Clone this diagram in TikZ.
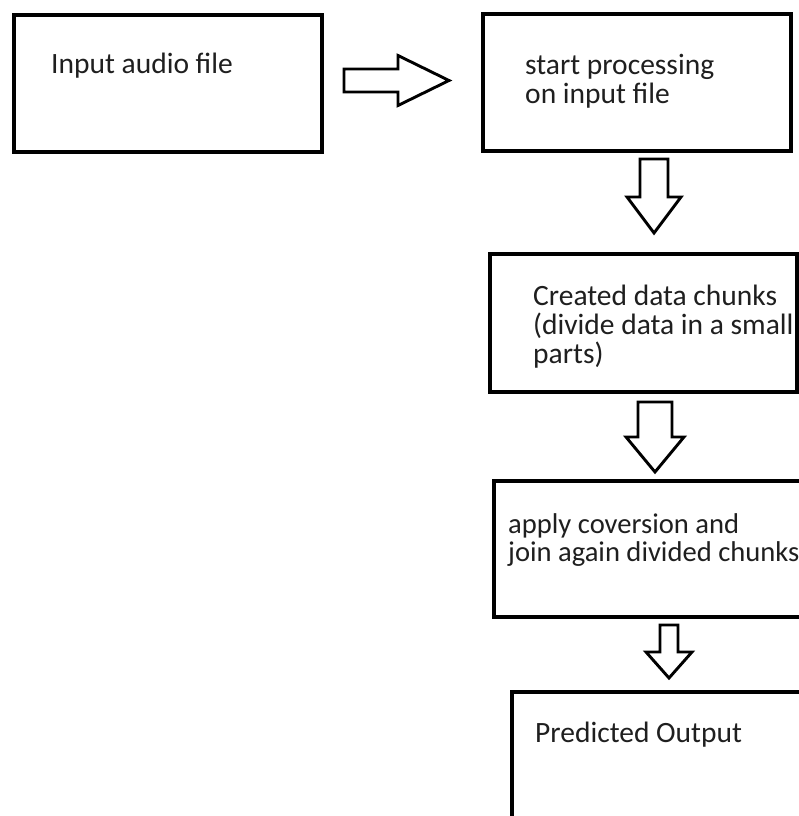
\documentclass[tikz,border=0pt]{standalone}
\usepackage{fontspec}
\setmainfont{Carlito}
\usetikzlibrary{calc}
\begin{document}
\begin{tikzpicture}[x=1pt,y=-1pt,
  box/.style={draw=black, line width=3.4pt, rectangle, inner sep=0pt, outer sep=0pt, anchor=north west},
  % anchor at the baseline of the last line of the text
  lbl/.style={font=\fontsize{29.5}{29}\selectfont, inner sep=0pt, align=left, text=black!88, anchor=base west},
  arrowline/.style={draw=black, line width=2.9pt, line join=miter, fill=white},
  % hollow block arrow pointing down: shaft half width, head half width, stem length, total length
  pics/vblock/.style n args={4}{code={
    \draw[arrowline] (-#1,0) -- (#1,0) -- (#1,#3) -- (#2,#3) -- (0,#4) -- (-#2,#3) -- (-#1,#3) -- cycle;}},
  % hollow block arrow pointing right
  pics/hblock/.style n args={4}{code={
    \draw[arrowline] (0,-#1) -- (#3,-#1) -- (#3,-#2) -- (#4,0) -- (#3,#2) -- (#3,#1) -- (0,#1) -- cycle;}}
]
\useasboundingbox (0,0) rectangle (799,816);
\fill[white] (0,0) rectangle (799,816);
\clip (0,0) rectangle (799,816);

% process boxes
\node[box, minimum width=308, minimum height=137] (input)   at (14,15)  {};
\node[box, minimum width=308, minimum height=137] (process) at (483,14) {};
\node[box, minimum width=307, minimum height=138] (chunks)  at (490,254) {};
\node[box, minimum width=320, minimum height=136] (convert) at (494,481) {};
\node[box, minimum width=300, minimum height=140] (output)  at (512,692) {};

% box texts
\node[lbl] (inputT)   at (51,74)  {Input audio file};
\node[lbl] (processT) at (525,103) {start processing\\on input file};
\node[lbl] (chunksT)  at (533,363) {Created data chunks\\(divide data in a small\\parts)};
\node[lbl, font=\fontsize{28.6}{28}\selectfont] (convertT) at (508,561) {apply coversion and\\join again divided chunks};
\node[lbl] (outputT)  at (535,742) {Predicted Output};

% block arrows between the boxes
\pic at ($(input.east)+(22,-3)$) {hblock={11.5}{25}{54}{105}};
\pic at (654,159) {vblock={14}{27}{38}{74}};
\pic at (655,402) {vblock={17}{29}{35}{70}};
\pic at (669,625) {vblock={9}{23}{27}{53}};
\end{tikzpicture}
\end{document}
